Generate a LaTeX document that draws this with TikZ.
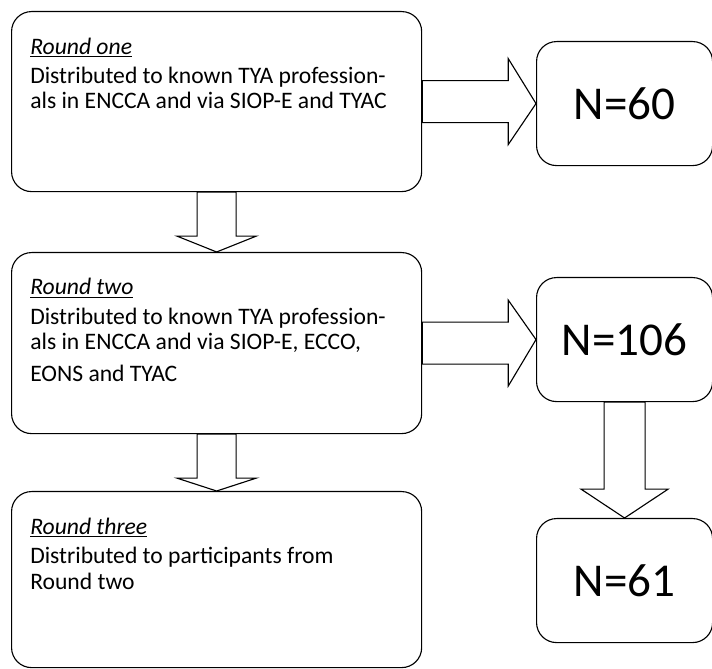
\documentclass[tikz,border=0pt]{standalone}
\usepackage{fontspec}
\setmainfont{Carlito}
\usetikzlibrary{calc}

\begin{document}
\begin{tikzpicture}[x=0.025cm, y=-0.025cm,
  roundbox/.style={draw=black, line width=0.8pt, rounded corners=0.5cm, minimum width=10.25cm, inner sep=0pt, anchor=north west},
  countbox/.style={draw=black, line width=0.8pt, rounded corners=0.5cm, minimum width=4.4cm, minimum height=3.1cm, inner sep=0pt, anchor=north west, font=\fontsize{33.5}{36}\selectfont},
  boxtext/.style={anchor=base west, align=left, inner sep=0pt, font=\fontsize{16.8}{17.8}\selectfont},
  blockarrow/.style={draw=black, line width=0.8pt, fill=white, line join=miter}]

  \useasboundingbox (0,0) rectangle (712,669);

  % rounds
  \node[roundbox, minimum height=4.5cm] (b1) at (11,11) {};
  \node[roundbox, minimum height=4.525cm] (b2) at (11,252) {};
  \node[roundbox, minimum height=4.4cm] (b3) at (11,491) {};

  % text sits on the baseline of its last line
  \node[boxtext] (t1) at ($(b1.north west)+(19,98)$) {\underline{\textit{Round one}}\\[3.5pt]Distributed to known TYA profession-\\als in ENCCA and via SIOP-E and TYAC};
  \node[boxtext] (t2) at ($(b2.north west)+(19,130)$) {\underline{\textit{Round two}}\\[3.5pt]Distributed to known TYA profession-\\als in ENCCA and via SIOP-E, ECCO,\\[5pt]EONS and TYAC};
  \node[boxtext] (t3) at ($(b3.north west)+(19,98)$) {\underline{\textit{Round three}}\\[3.5pt]Distributed to participants from\\Round two};

  % counts
  \node[countbox] (n1) at (536,41) {N=60};
  \node[countbox] (n2) at (536,277) {N=106};
  \node[countbox] (n3) at (536,518) {N=61};

  % block arrows
  \draw[blockarrow] ($(b1.east)+(0,-21)$) -- ($(b1.east)+(86,-21)$) -- ($(b1.east)+(86,-43)$) -- (n1.west) -- ($(b1.east)+(86,43)$) -- ($(b1.east)+(86,21)$) -- ($(b1.east)+(0,21)$) -- cycle;
  \draw[blockarrow] ($(b2.east)+(0,-21)$) -- ($(b2.east)+(86,-21)$) -- ($(b2.east)+(86,-43)$) -- (n2.west) -- ($(b2.east)+(86,43)$) -- ($(b2.east)+(86,21)$) -- ($(b2.east)+(0,21)$) -- cycle;
  \draw[blockarrow] ($(b1.south)+(-19.5,0)$) -- ($(b1.south)+(-19.5,44)$) -- ($(b1.south)+(-39.5,44)$) -- (b2.north) -- ($(b1.south)+(39.5,44)$) -- ($(b1.south)+(19.5,44)$) -- ($(b1.south)+(19.5,0)$) -- cycle;
  \draw[blockarrow] ($(b2.south)+(-19.5,0)$) -- ($(b2.south)+(-19.5,44)$) -- ($(b2.south)+(-39.5,44)$) -- (b3.north) -- ($(b2.south)+(39.5,44)$) -- ($(b2.south)+(19.5,44)$) -- ($(b2.south)+(19.5,0)$) -- cycle;
  \draw[blockarrow] ($(n2.south)+(-20.5,0)$) -- ($(n2.south)+(-20.5,87)$) -- ($(n2.south)+(-43.5,87)$) -- (n3.north) -- ($(n2.south)+(43.5,87)$) -- ($(n2.south)+(20.5,87)$) -- ($(n2.south)+(20.5,0)$) -- cycle;
\end{tikzpicture}
\end{document}
